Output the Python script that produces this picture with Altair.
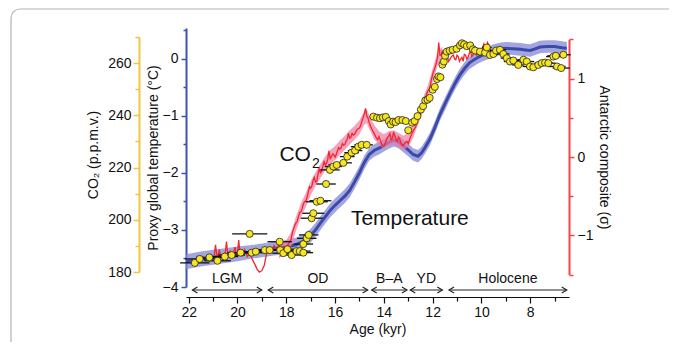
import altair as alt
import pandas as pd

# ---------------- data ----------------
# Proxy global temperature stack (deg C) and its uncertainty half-width
temp_age = [22.1, 22.0, 21.5, 21.0, 20.5, 20.0, 19.5, 19.0, 18.5, 18.0, 17.6, 17.3, 17.0, 16.8,
            16.6, 16.4, 16.2, 16.0, 15.8, 15.6, 15.4, 15.2, 15.0, 14.8, 14.6, 14.4, 14.2, 14.0,
            13.8, 13.6, 13.4, 13.2, 13.0, 12.8, 12.6, 12.45, 12.3, 12.1, 11.9, 11.7, 11.5, 11.3,
            11.1, 10.9, 10.7, 10.5, 10.3, 10.1, 9.9, 9.7, 9.5, 9.2, 9.0, 8.7, 8.4, 8.2, 8.0, 7.8,
            7.6, 7.3, 7.0, 6.7, 6.5]
temp_val = [-3.56, -3.55, -3.51, -3.48, -3.45, -3.42, -3.39, -3.36, -3.33, -3.30, -3.26, -3.20,
            -3.10, -3.00, -2.88, -2.77, -2.66, -2.57, -2.49, -2.41, -2.31, -2.16, -2.00, -1.82,
            -1.68, -1.61, -1.57, -1.52, -1.47, -1.43, -1.46, -1.53, -1.60, -1.68, -1.71, -1.65,
            -1.55, -1.40, -1.20, -0.98, -0.80, -0.62, -0.45, -0.30, -0.18, -0.08, -0.02, 0.03,
            0.07, 0.10, 0.14, 0.17, 0.18, 0.17, 0.16, 0.15, 0.14, 0.17, 0.20, 0.21, 0.21, 0.19,
            0.18]
temp_unc = [0.13, 0.13, 0.13, 0.13, 0.13, 0.13, 0.12, 0.12, 0.12, 0.12, 0.12, 0.12, 0.12, 0.12,
            0.12, 0.12, 0.12, 0.12, 0.12, 0.12, 0.12, 0.12, 0.12, 0.12, 0.11, 0.11, 0.11, 0.11,
            0.11, 0.11, 0.11, 0.11, 0.11, 0.11, 0.11, 0.11, 0.11, 0.11, 0.11, 0.11, 0.11, 0.11,
            0.11, 0.11, 0.11, 0.11, 0.11, 0.11, 0.11, 0.11, 0.11, 0.11, 0.11, 0.11, 0.11, 0.11,
            0.11, 0.11, 0.11, 0.11, 0.11, 0.11, 0.11]

# Antarctic temperature composite (sigma units), main trace
ant_age = [20.95, 20.9, 20.85, 20.8, 20.75, 20.7, 20.6, 20.5, 20.45, 20.4, 20.3, 20.2, 20.1, 20.0,
           19.95, 19.9, 19.8, 19.7, 19.6, 19.5, 19.4, 19.3, 19.2, 19.1, 19.0, 18.9, 18.8, 18.7,
           18.6, 18.5, 18.4, 18.3, 18.2, 18.1, 18.0, 17.9, 17.8, 17.75, 17.7, 17.6, 17.5, 17.4,
           17.3, 17.2, 17.1, 17.0, 16.9, 16.8, 16.7, 16.6, 16.5, 16.4, 16.3, 16.2, 16.1, 16.0,
           15.9, 15.8, 15.7, 15.6, 15.5, 15.4, 15.3, 15.2, 15.1, 15.0, 14.9, 14.8, 14.75, 14.7,
           14.6, 14.5, 14.4, 14.3, 14.2, 14.1, 14.0, 13.9, 13.8, 13.7, 13.6, 13.5, 13.4, 13.3,
           13.2, 13.1, 13.0, 12.9, 12.8, 12.7, 12.6, 12.5, 12.4, 12.3, 12.2, 12.1, 12.0, 11.9,
           11.8, 11.75, 11.7, 11.6, 11.5, 11.4, 11.3, 11.2, 11.1, 11.0, 10.9, 10.8, 10.7, 10.6,
           10.5, 10.4, 10.3, 10.2, 10.1, 10.0, 9.9, 9.8, 9.7, 9.6]
ant_val = [-1.26, -1.12, -1.24, -1.28, -1.18, -1.25, -1.30, -1.22, -1.08, -1.24, -1.20, -1.27,
           -1.15, -1.23, -1.06, -1.22, -1.26, -1.18, -1.27, -1.21, -1.30, -1.36, -1.43, -1.47,
           -1.45, -1.38, -1.22, -1.15, -1.20, -1.13, -1.18, -1.12, -1.19, -1.14, -1.17, -1.10,
           -1.05, -0.96, -0.92, -0.84, -0.76, -0.70, -0.60, -0.56, -0.45, -0.40, -0.30, -0.32,
           -0.22, -0.20, -0.12, -0.10, -0.03, -0.02, 0.04, 0.00, 0.08, 0.10, 0.17, 0.16, 0.23,
           0.24, 0.30, 0.29, 0.35, 0.37, 0.46, 0.55, 0.62, 0.52, 0.44, 0.36, 0.30, 0.24, 0.26,
           0.17, 0.14, 0.21, 0.27, 0.22, 0.32, 0.22, 0.25, 0.18, 0.15, 0.19, 0.17, 0.26, 0.33,
           0.38, 0.50, 0.56, 0.68, 0.73, 0.84, 0.90, 1.05, 1.14, 1.27, 1.46, 1.30, 1.36, 1.27,
           1.31, 1.24, 1.29, 1.25, 1.30, 1.22, 1.27, 1.31, 1.25, 1.32, 1.28, 1.34, 1.30, 1.38,
           1.33, 1.44, 1.38, 1.43, 1.36]
# finer wiggles of the same trace, read between the points above
ant_fine_age = [20.65, 20.55, 20.35, 20.25, 20.15, 20.05, 19.85, 19.75, 19.65, 19.55, 19.45,
                18.75, 18.65, 18.55, 18.45, 18.35, 18.25, 18.15, 18.05, 17.95, 17.85,
                17.65, 17.55, 17.45, 17.35, 17.25, 17.15, 17.05, 16.95, 16.85, 16.75, 16.65,
                16.55, 16.45, 16.35, 16.25, 16.15, 16.05, 15.95, 15.85, 15.75, 15.65, 15.55,
                15.45, 15.35, 15.25, 15.15, 15.05, 14.95, 14.85, 14.65, 14.55, 14.45, 14.35,
                14.25, 14.15, 14.05, 13.95, 13.85, 13.75, 13.65, 13.55, 13.45, 13.35, 13.25,
                13.15, 13.05, 12.95, 12.85, 12.75, 12.65, 12.55, 12.45, 12.35, 12.25, 12.15,
                12.05, 11.95, 11.85, 11.65, 11.55, 11.45, 11.35, 11.25, 11.15, 11.05, 10.95,
                10.85, 10.75, 10.65, 10.55, 10.45, 10.35, 10.25, 10.15, 10.05, 9.95, 9.85,
                9.75, 9.65]
ant_fine_val = [-1.26, -1.25, -1.22, -1.24, -1.21, -1.25, -1.23, -1.22, -1.22, -1.25, -1.26,
                -1.17, -1.17, -1.17, -1.15, -1.15, -1.16, -1.17, -1.16, -1.13, -1.08,
                -0.87, -0.82, -0.71, -0.66, -0.57, -0.52, -0.38, -0.37, -0.26, -0.31, -0.15,
                -0.18, -0.06, -0.08, 0.08, 0.00, 0.03, 0.03, 0.12, 0.12, 0.15, 0.20,
                0.30, 0.25, 0.28, 0.32, 0.36, 0.40, 0.50, 0.50, 0.40, 0.33, 0.27,
                0.22, 0.22, 0.14, 0.17, 0.25, 0.30, 0.24, 0.27, 0.20, 0.23, 0.15,
                0.17, 0.20, 0.22, 0.30, 0.36, 0.44, 0.53, 0.62, 0.70, 0.80, 0.86,
                0.99, 1.10, 1.20, 1.30, 1.29, 1.33, 1.22, 1.27, 1.30, 1.24, 1.28,
                1.25, 1.22, 1.30, 1.27, 1.36, 1.30, 1.33, 1.31, 1.36, 1.40, 1.36,
                1.46, 1.38]

# smoothed Antarctic composite (pink envelope)
ant_s_age = [18.3, 18.0, 17.8, 17.6, 17.4, 17.2, 17.0, 16.8, 16.6, 16.4, 16.2, 16.0, 15.8, 15.6,
             15.4, 15.2, 15.0, 14.8, 14.7, 14.6, 14.4, 14.2, 14.0, 13.8, 13.6, 13.4, 13.2, 13.0,
             12.8, 12.6, 12.4, 12.2, 12.0, 11.8, 11.6]
ant_s_val = [-1.20, -1.15, -1.05, -0.85, -0.68, -0.55, -0.40, -0.28, -0.18, -0.08, 0.00, 0.05,
             0.12, 0.18, 0.25, 0.31, 0.38, 0.50, 0.52, 0.45, 0.32, 0.24, 0.20, 0.24, 0.25, 0.22,
             0.18, 0.22, 0.33, 0.50, 0.66, 0.82, 1.04, 1.25, 1.32]

# Antarctic ice-core CO2 (p.p.m.v.) with age uncertainty (kyr)
co2_age = [21.75, 21.55, 21.15, 20.82, 20.52, 20.24, 19.87, 19.50, 19.42, 19.25, 18.88, 18.68,
           18.27, 18.25, 18.12, 17.95, 17.78, 17.58, 17.45, 17.30, 17.30, 17.16, 17.08, 16.96,
           16.89, 16.75, 16.60, 16.37, 16.21, 16.07, 15.93, 15.66, 15.50, 15.32, 15.18, 15.05,
           14.91, 14.70, 14.43, 14.28, 14.16, 14.04, 13.92, 13.80, 13.72, 13.62, 13.52, 13.40,
           13.24, 13.10, 13.00, 12.84, 12.74, 12.62, 12.48, 12.39, 12.30, 12.21, 12.12, 12.00,
           11.91, 11.82, 11.76, 11.68, 11.60, 11.54, 11.49, 11.42, 11.30, 11.18, 11.02, 10.88,
           10.80, 10.71, 10.60, 10.46, 10.35, 10.26, 10.06, 9.85, 9.78, 9.65, 9.51, 9.40, 9.24,
           9.10, 8.96, 8.83, 8.69, 8.49, 8.28, 8.14, 8.01, 7.87, 7.67, 7.53, 7.39, 7.26, 7.05,
           6.95, 6.90, 6.73, 6.64]
co2_ppm = [183.5, 185.0, 185.6, 184.3, 185.9, 186.5, 187.4, 194.6, 187.4, 187.8, 188.4, 188.4,
           191.6, 188.4, 187.2, 188.7, 186.5, 188.0, 188.0, 187.4, 190.7, 192.9, 194.2, 200.6,
           202.5, 206.9, 207.3, 213.7, 219.1, 220.4, 221.0, 221.8, 224.2, 225.7, 226.5, 228.0,
           228.7, 228.7, 239.5, 239.1, 238.9, 239.2, 239.4, 237.8, 236.5, 237.6, 237.4, 238.2,
           238.2, 237.8, 234.3, 237.2, 237.8, 239.7, 242.2, 243.5, 245.7, 246.0, 246.7, 249.8,
           250.9, 253.9, 254.9, 254.6, 259.4, 260.6, 262.8, 264.4, 264.8, 265.1, 265.5, 266.8,
           267.6, 267.2, 266.5, 266.8, 265.3, 264.8, 264.4, 264.0, 266.0, 263.1, 263.5, 264.8,
           265.1, 263.5, 261.9, 260.6, 261.0, 259.3, 261.3, 260.6, 258.7, 258.4, 259.3, 260.0,
           260.2, 260.0, 262.5, 262.8, 258.7, 258.1, 263.2]
co2_err = [0.60, 0.60, 0.55, 0.55, 0.55, 0.55, 0.55, 0.72, 0.55, 0.50, 0.50, 0.45, 0.50, 0.45,
           0.45, 0.45, 0.45, 0.40, 0.45, 0.40, 0.40, 0.40, 0.40, 0.45, 0.45, 0.45, 0.45, 0.40,
           0.40, 0.35, 0.35, 0.35, 0.30, 0.30, 0.30, 0.30, 0.30, 0.25, 0.15, 0.15, 0.15, 0.15,
           0.15, 0.12, 0.12, 0.12, 0.12, 0.12, 0.12, 0.12, 0.12, 0.12, 0.10, 0.10, 0.10, 0.10,
           0.10, 0.10, 0.10, 0.10, 0.10, 0.10, 0.10, 0.10, 0.10, 0.10, 0.10, 0.10, 0.15, 0.15,
           0.15, 0.15, 0.15, 0.15, 0.15, 0.15, 0.15, 0.20, 0.20, 0.20, 0.20, 0.20, 0.20, 0.25,
           0.25, 0.25, 0.25, 0.25, 0.25, 0.25, 0.25, 0.30, 0.30, 0.30, 0.30, 0.30, 0.30, 0.30,
           0.30, 0.35, 0.35, 0.35, 0.30]

# climate periods
period_names = ["LGM", "OD", "B\u2013A", "YD", "Holocene"]
period_start = [21.85, 18.74, 14.50, 12.92, 11.33]
period_end = [19.00, 14.66, 13.05, 11.60, 6.50]

# axis ticks
age_ticks = list(range(7, 23))
temp_ticks = [-4, -3.5, -3, -2.5, -2, -1.5, -1, -0.5, 0, 0.5]
co2_ticks = [180, 190, 200, 210, 220, 230, 240, 250, 260, 270]
ant_ticks = [-1.5, -1, -0.5, 0, 0.5, 1, 1.5]

# ---------------- frames ----------------
temp_df = pd.DataFrame({"age": temp_age, "temp": temp_val,
                        "lo": [v - e for v, e in zip(temp_val, temp_unc)],
                        "hi": [v + e for v, e in zip(temp_val, temp_unc)]})
ant_df = pd.DataFrame({"age": ant_age + ant_fine_age, "sigma": ant_val + ant_fine_val})
ant_df = ant_df.sort_values("age", ascending=False).reset_index(drop=True)
ant_s_df = pd.DataFrame({"age": ant_s_age, "sigma": ant_s_val,
                         "lo": [v - 0.09 for v in ant_s_val],
                         "hi": [v + 0.09 for v in ant_s_val]})
co2_df = pd.DataFrame({"age": co2_age, "ppm": co2_ppm,
                       "a0": [a - e for a, e in zip(co2_age, co2_err)],
                       "a1": [a + e for a, e in zip(co2_age, co2_err)]})
per_df = pd.DataFrame({"name": period_names, "start": period_start, "end": period_end,
                       "mid": [(s + e) / 2 for s, e in zip(period_start, period_end)]})

# ---------------- scales / axes ----------------
W, H = 383, 259
FONT = "Liberation Sans"
BLUE_AX = "#3d52b4"
GOLD_AX = "#f2c53d"
RED_AX = "#f2454a"

xs = alt.Scale(domain=[6.41, 22.11], reverse=True, nice=False, zero=False)
temp_s = alt.Scale(domain=[-4, 0.534], range=[H, 0], nice=False, zero=False)
co2_s = alt.Scale(domain=[180, 270], range=[244, 9], nice=False, zero=False)
ant_s = alt.Scale(domain=[-1.5, 1.5], range=[246.6, 11.4], nice=False, zero=False)

x_axis = alt.Axis(orient="bottom", offset=10, values=age_ticks, grid=False,
                  labelExpr="datum.value % 2 == 0 ? datum.label : ''",
                  tickSize={"condition": {"test": "datum.value % 2 == 0", "value": 6}, "value": 4},
                  domainColor="#111", tickColor="#111", domainWidth=1.2, tickWidth=1.2,
                  labelFontSize=14, labelPadding=2, titleFontSize=14, titlePadding=3,
                  labelColor="#111", titleColor="#111", titleFontWeight="normal",
                  title="Age (kyr)")
temp_axis = alt.Axis(orient="left", values=temp_ticks, grid=False,
                     labelExpr="datum.value % 1 == 0 ? format(datum.value, 'd') : ''",
                     tickSize={"condition": {"test": "datum.value % 1 == 0", "value": 5}, "value": 3},
                     domainColor=BLUE_AX, tickColor=BLUE_AX, domainWidth=2, tickWidth=1.5,
                     labelFontSize=14, labelPadding=3, labelColor="#111",
                     title="Proxy global temperature (\u00b0C)", titleFontSize=14,
                     titleFontWeight="normal", titleColor="#111", titlePadding=2)
co2_axis = alt.Axis(orient="left", offset=47, values=co2_ticks, grid=False,
                    labelExpr="datum.value % 20 == 0 ? datum.label : ''",
                    tickSize={"condition": {"test": "datum.value % 20 == 0", "value": 6}, "value": 4},
                    domainColor=GOLD_AX, tickColor=GOLD_AX, domainWidth=2, tickWidth=1.5,
                    labelFontSize=14, labelPadding=2, labelColor="#111",
                    title="CO\u2082 (p.p.m.v.)", titleFontSize=14, titleFontWeight="normal",
                    titleColor="#111", titlePadding=7)
ant_axis = alt.Axis(orient="right", values=ant_ticks, grid=False,
                    labelExpr="datum.value % 1 == 0 ? format(datum.value, 'd') : ''",
                    tickSize={"condition": {"test": "datum.value % 1 == 0", "value": 5}, "value": 4},
                    domainColor=RED_AX, tickColor=RED_AX, domainWidth=2, tickWidth=1.5,
                    labelFontSize=14, labelPadding=3, labelColor="#111",
                    title="Antarctic composite (\u03c3)", titleFontSize=14,
                    titleFontWeight="normal", titleColor="#111", titlePadding=4)


def X(field):
    # every layer carries the same x axis definition so that they merge into one axis
    return alt.X(f"{field}:Q", scale=xs, axis=x_axis)


# ---------------- layers ----------------
border = alt.Chart(pd.DataFrame({"k": [0]})).mark_rect(
    fill="transparent", stroke="#b4b4b4", strokeWidth=1.2, cornerRadius=9
).encode(x=alt.value(-175), x2=alt.value(495), y=alt.value(-19), y2=alt.value(330))

blue_band = alt.Chart(temp_df).mark_area(color="#8b8fd8", opacity=0.8).encode(
    x=X("age"), y=alt.Y("lo:Q", scale=temp_s, axis=None), y2="hi:Q")
blue_line = alt.Chart(temp_df).mark_line(color="#3b4aa8", strokeWidth=3).encode(
    x=X("age"), y=alt.Y("temp:Q", scale=temp_s, axis=temp_axis))

pink_band = alt.Chart(ant_s_df).mark_area(color="#f07aa2", opacity=0.7).encode(
    x=X("age"), y=alt.Y("lo:Q", scale=ant_s, axis=None), y2="hi:Q")
red_line = alt.Chart(ant_df).mark_line(color="#f2262c", strokeWidth=1.3).encode(
    x=X("age"), y=alt.Y("sigma:Q", scale=ant_s, axis=ant_axis))

err = alt.Chart(co2_df).mark_rule(color="#111", strokeWidth=1.3).encode(
    x=X("a0"), x2="a1:Q", y=alt.Y("ppm:Q", scale=co2_s, axis=None))
pts = alt.Chart(co2_df).mark_point(filled=True, fill="#f6e61c", stroke="#222",
                                   strokeWidth=0.8, size=50, opacity=1).encode(
    x=X("age"), y=alt.Y("ppm:Q", scale=co2_s, axis=co2_axis))

lab_df = pd.DataFrame({"age": [16.99], "temp": [-1.786]})
co_text = alt.Chart(lab_df).mark_text(text="CO", font=FONT, fontSize=21, align="right",
                                      baseline="alphabetic", color="#111").encode(
    x=X("age"), y=alt.Y("temp:Q", scale=temp_s, axis=None))
co_sub = alt.Chart(lab_df).mark_text(text="2", font=FONT, fontSize=14, align="left",
                                     baseline="alphabetic", dx=1, dy=7, color="#111").encode(
    x=X("age"), y=alt.Y("temp:Q", scale=temp_s, axis=None))
temp_lab_df = pd.DataFrame({"age": [15.35], "temp": [-2.915]})
temp_text = alt.Chart(temp_lab_df).mark_text(text="Temperature", font=FONT, fontSize=21,
                                             align="left", baseline="alphabetic",
                                             color="#111").encode(
    x=X("age"), y=alt.Y("temp:Q", scale=temp_s, axis=None))

ARROW_Y = 262
per_rule = alt.Chart(per_df).mark_rule(color="#222", strokeWidth=1).encode(
    x=X("start"), x2="end:Q", y=alt.value(ARROW_Y))
per_left = alt.Chart(per_df).mark_point(shape="M1.7,-1L0,0L1.7,1", filled=False,
                                        stroke="#222", strokeWidth=1.1, size=36,
                                        opacity=1).encode(
    x=X("start"), y=alt.value(ARROW_Y))
per_right = alt.Chart(per_df).mark_point(shape="M-1.7,-1L0,0L-1.7,1", filled=False,
                                         stroke="#222", strokeWidth=1.1, size=36,
                                         opacity=1).encode(
    x=X("end"), y=alt.value(ARROW_Y))
per_text = alt.Chart(per_df).mark_text(font=FONT, fontSize=14, baseline="middle",
                                       color="#111").encode(
    x=X("mid"), y=alt.value(251), text="name:N")

chart = alt.layer(
    border, blue_band, blue_line, pink_band, red_line, err, pts,
    co_text, co_sub, temp_text, per_rule, per_left, per_right, per_text
).resolve_scale(y="independent").properties(
    width=W, height=H,
    autosize=alt.AutoSizeParams(type="none"),
    padding={"left": 178, "top": 20, "right": 100, "bottom": 55},
    background="white",
).configure(font=FONT).configure_view(stroke="transparent")

chart.save("out.html", embed_options={"renderer": "svg", "actions": False})
